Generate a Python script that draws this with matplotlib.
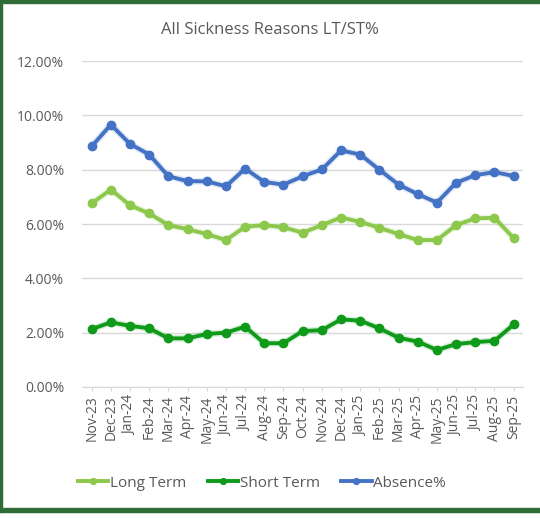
import matplotlib
matplotlib.use("Agg")
import matplotlib.pyplot as plt
from matplotlib.ticker import FuncFormatter, MultipleLocator
from matplotlib.patches import Rectangle

months = ["Nov-23", "Dec-23", "Jan-24", "Feb-24", "Mar-24", "Apr-24", "May-24",
          "Jun-24", "Jul-24", "Aug-24", "Sep-24", "Oct-24", "Nov-24", "Dec-24",
          "Jan-25", "Feb-25", "Mar-25", "Apr-25", "May-25", "Jun-25", "Jul-25",
          "Aug-25", "Sep-25"]

long_term = [6.76, 7.27, 6.69, 6.39, 5.96, 5.81, 5.63, 5.41, 5.90, 5.96, 5.88, 5.68,
             5.96, 6.24, 6.08, 5.86, 5.63, 5.41, 5.41, 5.96, 6.21, 6.23, 5.48]
short_term = [2.13, 2.38, 2.25, 2.16, 1.79, 1.79, 1.95, 2.00, 2.22, 1.61, 1.61, 2.06,
              2.09, 2.49, 2.44, 2.16, 1.81, 1.67, 1.36, 1.58, 1.65, 1.70, 2.30]
absence = [8.86, 9.66, 8.95, 8.56, 7.76, 7.58, 7.57, 7.39, 8.04, 7.55, 7.45, 7.76,
           8.01, 8.71, 8.56, 8.00, 7.45, 7.10, 6.79, 7.52, 7.80, 7.91, 7.77]

series = [("Long Term", long_term, "#8cc84b"),
          ("Short Term", short_term, "#0f9a1a"),
          ("Absence%", absence, "#4472c4")]

plt.rcParams["font.family"] = ["Open Sans", "DejaVu Sans"]
text_color = "#595959"

fig = plt.figure(figsize=(5.40, 5.18), dpi=100)
ax = fig.add_axes([0.152, 0.253, 0.817, 0.629])

x = list(range(len(months)))
for name, vals, color in series:
    # soft halo under each line
    ax.plot(x, vals, color=color, lw=5, alpha=0.15, zorder=2,
            solid_joinstyle="round", solid_capstyle="round")
    ax.plot(x, vals, color=color, lw=2.8, marker="o", ms=6,
            markerfacecolor=color, markeredgecolor=color, label=name,
            solid_joinstyle="round", zorder=3)

ax.set_xlim(-0.5, len(months) - 0.5)
ax.set_ylim(0, 12)
ax.yaxis.set_major_locator(MultipleLocator(2))
ax.yaxis.set_major_formatter(FuncFormatter(lambda v, p: f"{v:.2f}%"))
ax.grid(axis="y", color="#d9d9d9", lw=1)
ax.set_axisbelow(True)
for s in ["top", "right", "left"]:
    ax.spines[s].set_visible(False)
ax.spines["bottom"].set_color("#d9d9d9")
ax.set_xticks(x)
ax.set_xticklabels(months, rotation=90, fontsize=10, color=text_color)
ax.tick_params(axis="x", length=3, color="#d9d9d9", pad=3)
ax.tick_params(axis="y", length=0, labelsize=10, labelcolor=text_color, pad=13)

fig.text(0.5, 0.942, "All Sickness Reasons LT/ST%", ha="center", va="center",
         fontsize=12, color=text_color)

leg = fig.legend(loc="center", bbox_to_anchor=(0.485, 0.067), ncol=3, frameon=False,
                 fontsize=11, labelcolor=text_color, handlelength=2.0,
                 handletextpad=0.1, columnspacing=1.4, markerscale=0.7)

# frame around the chart
fig.patches.append(Rectangle((0, 0.012), 0.004, 0.988, transform=fig.transFigure,
                             color="#2e6b35", zorder=10))
fig.patches.append(Rectangle((0, 0.994), 1, 0.006, transform=fig.transFigure,
                             color="#2e6b35", zorder=10))
fig.patches.append(Rectangle((0, 0.012), 1, 0.008, transform=fig.transFigure,
                             color="#2e6b35", zorder=10))

fig.savefig("out.png", dpi=100)
